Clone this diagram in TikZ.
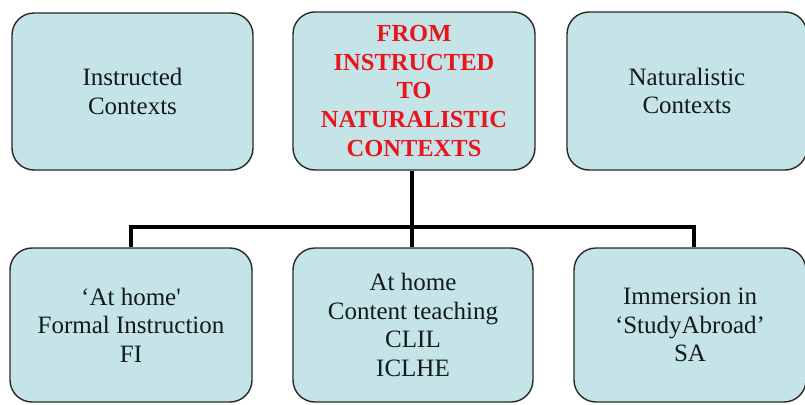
\documentclass[tikz,border=0pt]{standalone}
\usepackage{fontspec}
\setmainfont{Liberation Serif}
\definecolor{boxfill}{RGB}{197,228,232}
\definecolor{boxline}{RGB}{40,40,40}
\definecolor{titlered}{RGB}{232,22,28}
\definecolor{txt}{RGB}{20,25,25}
\tikzset{
  ctxbox/.style={draw=boxline, line width=1.4pt, fill=boxfill, rounded corners=22pt,
    align=center, inner sep=0pt, text=txt,
    font=\fontsize{25}{28.5}\selectfont},
  titlebox/.style={ctxbox, text=titlered, font=\fontsize{24.5}{28.7}\selectfont\bfseries},
  conn/.style={line width=4.5pt, black}
}
\begin{document}
\begin{tikzpicture}[x=1pt,y=-1pt]
\useasboundingbox (0,0) rectangle (805,404);
\fill[white] (0,0) rectangle (805,404);
\node[ctxbox, minimum width=241pt, minimum height=157pt] (tl) at (132.5,91.5) {Instructed\\Contexts};
\node[titlebox, minimum width=242pt, minimum height=158pt] (tm) at (414,91) {FROM\\INSTRUCTED\\TO\\NATURALISTIC\\CONTEXTS};
\node[ctxbox, minimum width=240pt, minimum height=158pt] (tr) at (687,91) {Naturalistic\\Contexts};
\coordinate (j) at (412,227);
\node[ctxbox, minimum width=242pt, minimum height=154pt] (bl) at (131,325) {`At home\textquotesingle\\Formal Instruction\\FI};
\node[ctxbox, minimum width=240pt, minimum height=154pt] (bm) at (413,325) {At home\\Content teaching\\CLIL\\ICLHE};
\node[ctxbox, minimum width=232pt, minimum height=154pt] (br) at (690,325) {Immersion in\\`StudyAbroad'\\SA};
\draw[conn] (tm.south -| j) -- (j);
\draw[conn] (j) -- (j |- bm.north);
\draw[conn] (bl.north) |- (j);
\draw[conn] (j) -| ([xshift=4pt]br.north);
\end{tikzpicture}
\end{document}
